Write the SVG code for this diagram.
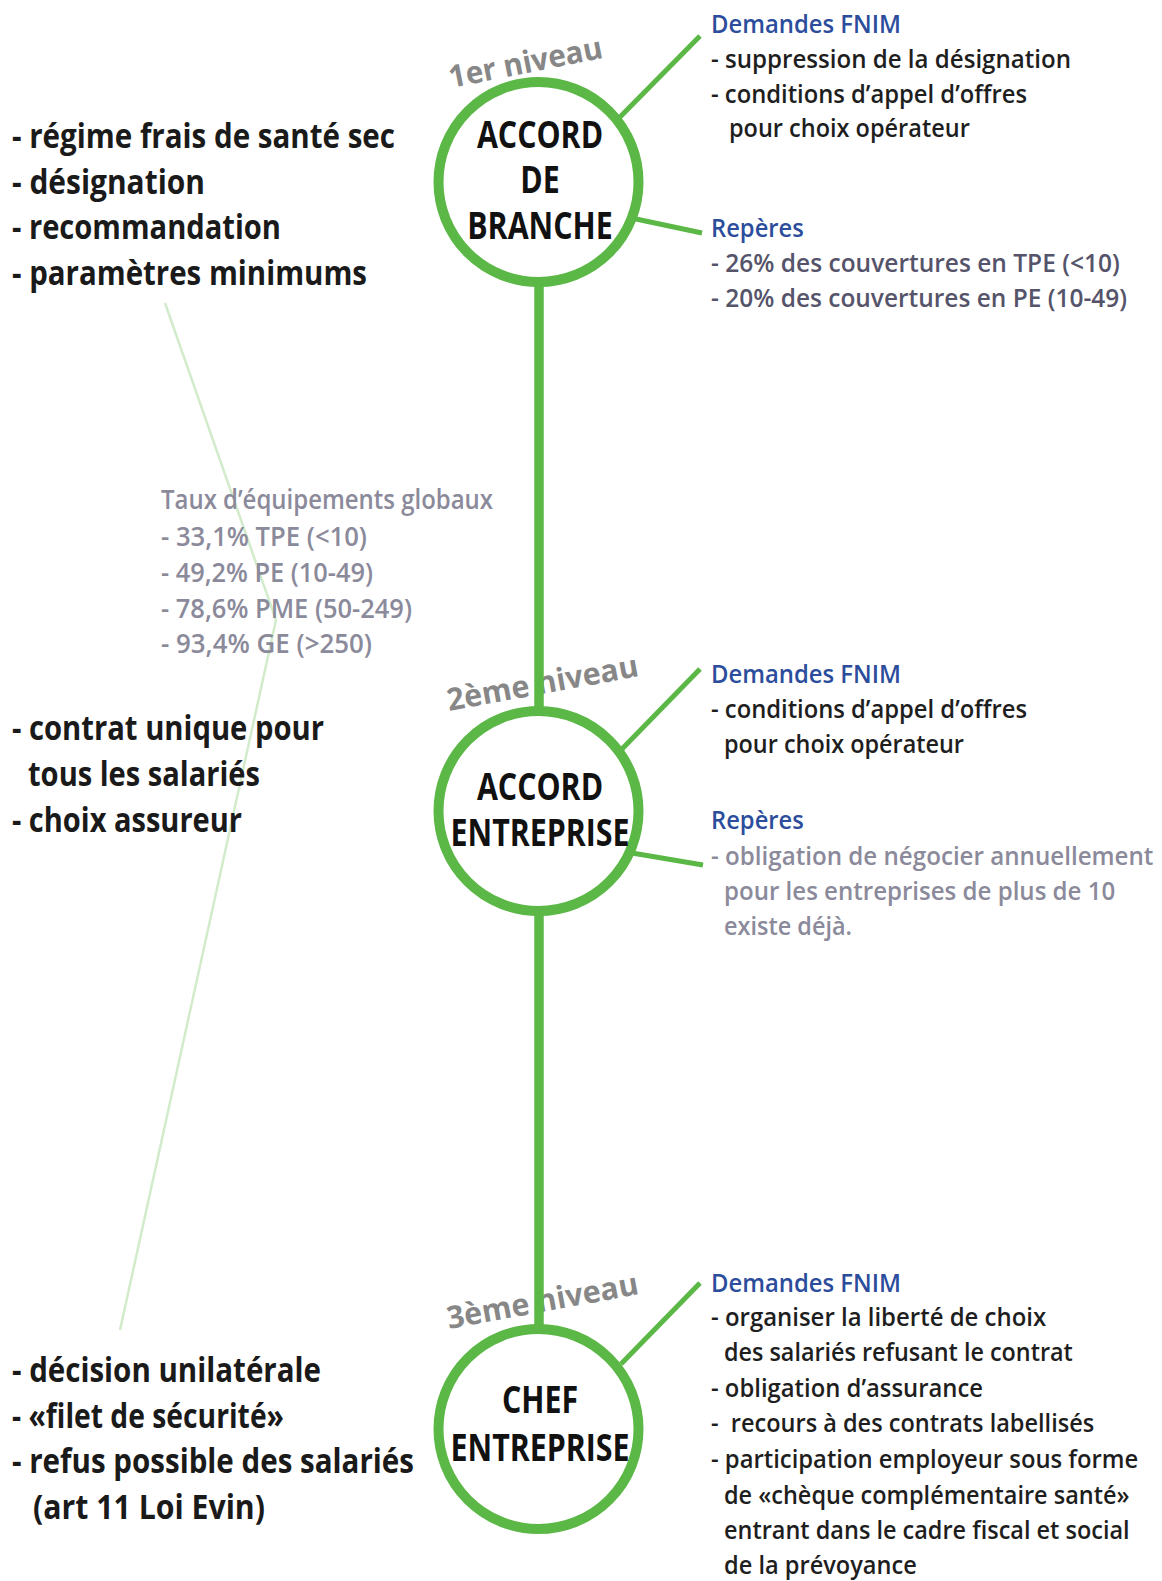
<svg xmlns="http://www.w3.org/2000/svg" width="1162" height="1581" viewBox="0 0 1162 1581">
<style>
text{font-family:"Open Sans","Noto Sans",sans-serif;font-weight:600;white-space:pre}
.big{font-size:34px;fill:#1a1a1a;font-weight:700}
.node{font-size:37px;fill:#111;text-anchor:middle;font-weight:700}
.lvl{font-size:31px;fill:#878787;font-weight:700}
.hd{font-size:26px;fill:#2c4d9c}
.tx{font-size:26px;fill:#1e1e1e}
.rp{font-size:26px;fill:#55546a}
.rp2{font-size:26px;fill:#8b8a9b}
.gr{font-size:27px;fill:#8b8a9b}
.ring{fill:#fff;stroke:#5bb846;stroke-width:10}
.con{stroke:#5bb846;fill:none}
</style>
<rect width="1162" height="1581" fill="#fff"/>
<g id="side-line">
<polyline points="165,303 276,620 120,1330" fill="none" stroke="#d2ebcb" stroke-width="2.5"/>
</g>
<g id="levels">
<text class="lvl" transform="translate(451,88) rotate(-11.2)" textLength="156" lengthAdjust="spacingAndGlyphs">1er niveau</text>
<text class="lvl" transform="translate(449,711) rotate(-10.4)" textLength="194" lengthAdjust="spacingAndGlyphs">2ème niveau</text>
<text class="lvl" transform="translate(449,1329) rotate(-10.4)" textLength="194" lengthAdjust="spacingAndGlyphs">3ème niveau</text>
</g>
<g id="connectors">
<line class="con" x1="539" y1="280" x2="539" y2="1330" stroke-width="9.5"/>
<line class="con" x1="619" y1="118" x2="700" y2="36" stroke-width="5"/>
<line class="con" x1="636" y1="219" x2="702" y2="233" stroke-width="5"/>
<line class="con" x1="621" y1="750" x2="700" y2="669" stroke-width="5"/>
<line class="con" x1="632" y1="853" x2="703" y2="865" stroke-width="5"/>
<line class="con" x1="621" y1="1364" x2="700" y2="1283" stroke-width="5"/>
</g>
<g id="accord-branche">
<circle class="ring" cx="538.5" cy="182" r="100"/>
<text class="node" transform="translate(540 0) scale(0.82 1)"><tspan x="0" y="148">ACCORD</tspan><tspan x="0" y="193.5">DE</tspan><tspan x="0" y="239">BRANCHE</tspan></text>
</g>
<g id="accord-entreprise">
<circle class="ring" cx="538.5" cy="811" r="100"/>
<text class="node" transform="translate(540 0) scale(0.82 1)"><tspan x="0" y="800">ACCORD</tspan><tspan x="0" y="846.5">ENTREPRISE</tspan></text>
</g>
<g id="chef-entreprise">
<circle class="ring" cx="538.5" cy="1429" r="100"/>
<text class="node" transform="translate(540 0) scale(0.82 1)"><tspan x="0" y="1413">CHEF</tspan><tspan x="0" y="1461">ENTREPRISE</tspan></text>
</g>
<g id="left-branche">
<text class="big" x="12" y="148" textLength="383" lengthAdjust="spacingAndGlyphs">- régime frais de santé sec</text>
<text class="big" x="12" y="193.5" textLength="193" lengthAdjust="spacingAndGlyphs">- désignation</text>
<text class="big" x="12" y="239" textLength="269" lengthAdjust="spacingAndGlyphs">- recommandation</text>
<text class="big" x="12" y="284.5" textLength="355" lengthAdjust="spacingAndGlyphs">- paramètres minimums</text>
</g>
<g id="taux">
<text class="gr" x="161" y="509" textLength="332" lengthAdjust="spacingAndGlyphs">Taux d’équipements globaux</text>
<text class="gr" x="161" y="546" textLength="206" lengthAdjust="spacingAndGlyphs">- 33,1% TPE (&lt;10)</text>
<text class="gr" x="161" y="582" textLength="212" lengthAdjust="spacingAndGlyphs">- 49,2% PE (10-49)</text>
<text class="gr" x="161" y="618" textLength="251" lengthAdjust="spacingAndGlyphs">- 78,6% PME (50-249)</text>
<text class="gr" x="161" y="653" textLength="211" lengthAdjust="spacingAndGlyphs">- 93,4% GE (&gt;250)</text>
</g>
<g id="left-entreprise">
<text class="big" x="12" y="740" textLength="312" lengthAdjust="spacingAndGlyphs">- contrat unique pour</text>
<text class="big" x="28" y="786" textLength="232" lengthAdjust="spacingAndGlyphs">tous les salariés</text>
<text class="big" x="12" y="832" textLength="230" lengthAdjust="spacingAndGlyphs">- choix assureur</text>
</g>
<g id="left-chef">
<text class="big" x="12" y="1382" textLength="309" lengthAdjust="spacingAndGlyphs">- décision unilatérale</text>
<text class="big" x="12" y="1428" textLength="272" lengthAdjust="spacingAndGlyphs">- «filet de sécurité»</text>
<text class="big" x="12" y="1473" textLength="402" lengthAdjust="spacingAndGlyphs">- refus possible des salariés</text>
<text class="big" x="33" y="1519" textLength="232" lengthAdjust="spacingAndGlyphs">(art 11 Loi Evin)</text>
</g>
<g id="right-branche" transform="translate(711 0) scale(0.8 1)">
<text class="hd" x="0" y="33" textLength="237.5" lengthAdjust="spacingAndGlyphs">Demandes FNIM</text>
<text class="tx" x="0" y="68" textLength="450" lengthAdjust="spacingAndGlyphs">- suppression de la désignation</text>
<text class="tx" x="0" y="103" textLength="395" lengthAdjust="spacingAndGlyphs">- conditions d’appel d’offres</text>
<text class="tx" x="22.5" y="137" textLength="301" lengthAdjust="spacingAndGlyphs">pour choix opérateur</text>
<text class="hd" x="0" y="237" textLength="116" lengthAdjust="spacingAndGlyphs">Repères</text>
<text class="rp" x="0" y="272" textLength="511" lengthAdjust="spacingAndGlyphs">- 26% des couvertures en TPE (&lt;10)</text>
<text class="rp" x="0" y="307" textLength="520" lengthAdjust="spacingAndGlyphs">- 20% des couvertures en PE (10-49)</text>
</g>
<g id="right-entreprise" transform="translate(711 0) scale(0.8 1)">
<text class="hd" x="0" y="683" textLength="237.5" lengthAdjust="spacingAndGlyphs">Demandes FNIM</text>
<text class="tx" x="0" y="718" textLength="395" lengthAdjust="spacingAndGlyphs">- conditions d’appel d’offres</text>
<text class="tx" x="16.25" y="753" textLength="300" lengthAdjust="spacingAndGlyphs">pour choix opérateur</text>
<text class="hd" x="0" y="829" textLength="116" lengthAdjust="spacingAndGlyphs">Repères</text>
<text class="rp2" x="0" y="865" textLength="553" lengthAdjust="spacingAndGlyphs">- obligation de négocier annuellement</text>
<text class="rp2" x="16.25" y="900" textLength="489" lengthAdjust="spacingAndGlyphs">pour les entreprises de plus de 10</text>
<text class="rp2" x="16.25" y="935" textLength="160" lengthAdjust="spacingAndGlyphs">existe déjà.</text>
</g>
<g id="right-chef" transform="translate(711 0) scale(0.8 1)">
<text class="hd" x="0" y="1292" textLength="237.5" lengthAdjust="spacingAndGlyphs">Demandes FNIM</text>
<text class="tx" x="0" y="1326" textLength="419" lengthAdjust="spacingAndGlyphs">- organiser la liberté de choix</text>
<text class="tx" x="16.25" y="1361" textLength="436" lengthAdjust="spacingAndGlyphs">des salariés refusant le contrat</text>
<text class="tx" x="0" y="1397" textLength="340" lengthAdjust="spacingAndGlyphs">- obligation d’assurance</text>
<text class="tx" x="0" y="1432" textLength="479" lengthAdjust="spacingAndGlyphs">-  recours à des contrats labellisés</text>
<text class="tx" x="0" y="1468" textLength="534" lengthAdjust="spacingAndGlyphs">- participation employeur sous forme</text>
<text class="tx" x="16.25" y="1504" textLength="507" lengthAdjust="spacingAndGlyphs">de «chèque complémentaire santé»</text>
<text class="tx" x="16.25" y="1539" textLength="507" lengthAdjust="spacingAndGlyphs">entrant dans le cadre fiscal et social</text>
<text class="tx" x="16.25" y="1574" textLength="241" lengthAdjust="spacingAndGlyphs">de la prévoyance</text>
</g>
</svg>
